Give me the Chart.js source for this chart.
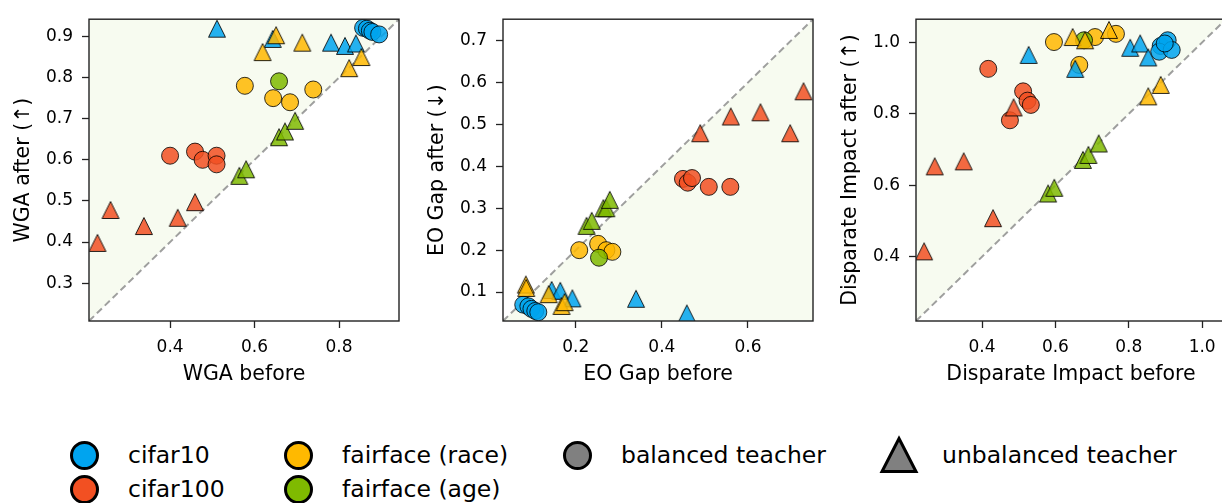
<!DOCTYPE html>
<html>
<head>
<meta charset="utf-8">
<script src="https://cdn.jsdelivr.net/npm/chart.js@4"></script>
<style>
  body { margin: 0; background: #fff; width: 1222px; height: 503px; overflow: hidden; position: relative; font-family: "DejaVu Sans", sans-serif; }
  canvas.panel { position: absolute; top: 0; }
  .lg { position: absolute; font-size: 23.5px; line-height: 23.5px; white-space: nowrap; color: #000; }
  .dot { position: absolute; width: 23px; height: 23px; border: 3px solid #000; border-radius: 50%; }
  svg.tri { position: absolute; }
</style>
</head>
<body>
<canvas id="wga" class="panel" width="414" height="400" style="left:0px"></canvas>
<canvas id="eo" class="panel" width="414" height="400" style="left:414px"></canvas>
<canvas id="di" class="panel" width="414" height="400" style="left:827px"></canvas>

<div class="dot" style="left:70px; top:441px; background:#00A4EF"></div>
<div class="lg" style="left:128px; top:444px">cifar10</div>
<div class="dot" style="left:70px; top:475px; background:#F25022"></div>
<div class="lg" style="left:128px; top:478px">cifar100</div>
<div class="dot" style="left:284px; top:441px; background:#FFB900"></div>
<div class="lg" style="left:342px; top:444px">fairface (race)</div>
<div class="dot" style="left:284px; top:475px; background:#7FBA00"></div>
<div class="lg" style="left:342px; top:478px">fairface (age)</div>
<div class="dot" style="left:563px; top:441px; background:#808080"></div>
<div class="lg" style="left:621px; top:444px">balanced teacher</div>
<svg class="tri" width="44" height="44" style="left:877px; top:432px">
  <polygon points="22,6.5 39,39.5 5,39.5" fill="#808080" stroke="#000" stroke-width="3" stroke-linejoin="miter"/>
</svg>
<div class="lg" style="left:942px; top:444px">unbalanced teacher</div>

<script>
// ---- WGA ----
const wgaRange = [0.208, 0.942];
const wgaXTicks = [0.4, 0.6, 0.8];
const wgaYTicks = [0.3, 0.4, 0.5, 0.6, 0.7, 0.8, 0.9];
const wga_cifar10_bal = [[0.857, 0.921], [0.866, 0.919], [0.873, 0.914], [0.879, 0.911], [0.895, 0.905]];
const wga_cifar10_unbal = [[0.511, 0.919], [0.643, 0.894], [0.781, 0.885], [0.814, 0.877], [0.840, 0.883]];
const wga_cifar100_bal = [[0.400, 0.610], [0.459, 0.620], [0.477, 0.600], [0.510, 0.610], [0.510, 0.589]];
const wga_cifar100_unbal = [[0.228, 0.398], [0.259, 0.478], [0.338, 0.439], [0.418, 0.459], [0.459, 0.497]];
const wga_race_bal = [[0.577, 0.780], [0.644, 0.750], [0.684, 0.740], [0.739, 0.771]];
const wga_race_unbal = [[0.619, 0.862], [0.651, 0.903], [0.713, 0.885], [0.824, 0.823], [0.853, 0.850]];
const wga_age_bal = [[0.658, 0.791]];
const wga_age_unbal = [[0.564, 0.561], [0.580, 0.577], [0.658, 0.655], [0.672, 0.669], [0.696, 0.695]];

// ---- EO gap ----
const eoRange = [0.031, 0.751];
const eoXTicks = [0.2, 0.4, 0.6];
const eoYTicks = [0.1, 0.2, 0.3, 0.4, 0.5, 0.6, 0.7];
const eo_cifar10_bal = [[0.078, 0.070], [0.090, 0.066], [0.097, 0.060], [0.106, 0.055], [0.113, 0.052]];
const eo_cifar10_unbal = [[0.144, 0.105], [0.164, 0.103], [0.192, 0.085], [0.340, 0.084], [0.458, 0.049]];
const eo_cifar100_bal = [[0.449, 0.370], [0.460, 0.361], [0.470, 0.372], [0.509, 0.351], [0.559, 0.351]];
const eo_cifar100_unbal = [[0.489, 0.479], [0.560, 0.519], [0.629, 0.529], [0.698, 0.479], [0.729, 0.579]];
const eo_race_bal = [[0.208, 0.200], [0.252, 0.215], [0.271, 0.200], [0.285, 0.196]];
const eo_race_unbal = [[0.084, 0.118], [0.085, 0.110], [0.137, 0.095], [0.167, 0.067], [0.174, 0.076]];
const eo_age_bal = [[0.254, 0.182]];
const eo_age_unbal = [[0.225, 0.258], [0.237, 0.270], [0.264, 0.300], [0.271, 0.300], [0.279, 0.320]];

// ---- Disparate impact ----
const diRange = [0.220, 1.065];
const diXTicks = [0.4, 0.6, 0.8, 1.0];
const diYTicks = [0.4, 0.6, 0.8, 1.0];
const di_cifar10_bal = [[0.887, 0.990], [0.906, 1.006], [0.883, 0.974], [0.917, 0.979], [0.898, 0.997]];
const di_cifar10_unbal = [[0.527, 0.965], [0.654, 0.926], [0.804, 0.985], [0.831, 0.997], [0.853, 0.958]];
const di_cifar100_bal = [[0.417, 0.926], [0.512, 0.863], [0.524, 0.837], [0.533, 0.825], [0.476, 0.782]];
const di_cifar100_unbal = [[0.242, 0.415], [0.271, 0.653], [0.350, 0.667], [0.430, 0.508], [0.486, 0.818]];
const di_race_bal = [[0.596, 1.001], [0.708, 1.015], [0.765, 1.024], [0.665, 0.937]];
const di_race_unbal = [[0.647, 1.015], [0.681, 1.006], [0.746, 1.035], [0.853, 0.849], [0.887, 0.881]];
const di_age_bal = [[0.678, 1.006]];
const di_age_unbal = [[0.580, 0.577], [0.597, 0.593], [0.675, 0.671], [0.690, 0.685], [0.718, 0.717]];

const COLORS = { cifar10: '#00A4EF', cifar100: '#F25022', race: '#FFB900', age: '#7FBA00' };
const ALPHA = 0.85;
const FONT = 'DejaVu Sans';

function rgba(hex, a) {
  const n = parseInt(hex.slice(1), 16);
  return `rgba(${n >> 16}, ${(n >> 8) & 255}, ${n & 255}, ${a})`;
}

// matplotlib-style '^' marker: box-centred, as wide as tall
function triangleImage(color) {
  const c = document.createElement('canvas');
  c.width = 20;
  c.height = 20;
  const g = c.getContext('2d');
  g.globalAlpha = ALPHA;
  g.beginPath();
  g.moveTo(10, 1.5);
  g.lineTo(18.5, 18.5);
  g.lineTo(1.5, 18.5);
  g.closePath();
  g.fillStyle = color;
  g.fill();
  g.lineWidth = 1;
  g.strokeStyle = '#000';
  g.stroke();
  return c;
}

const triangles = {};
for (const k in COLORS) triangles[k] = triangleImage(COLORS[k]);

const frame = {
  id: 'frame',
  afterDatasetsDraw(chart) {
    const { ctx, chartArea: a } = chart;
    ctx.save();
    ctx.strokeStyle = '#222';
    ctx.lineWidth = 1.4;
    ctx.strokeRect(a.left, a.top, a.right - a.left, a.bottom - a.top);
    ctx.restore();
  }
};

function axis(title, ticks, range, isX) {
  return {
    type: 'linear',
    min: range[0],
    max: range[1],
    afterBuildTicks: s => { s.ticks = ticks.map(v => ({ value: v })); },
    afterFit: s => { if (isX) s.height = 79; else s.width = 89; },
    grid: { drawOnChartArea: false, drawTicks: true, tickLength: 7, tickColor: '#222', tickWidth: 1.3 },
    border: { display: false },
    ticks: {
      autoSkip: false, maxRotation: 0, padding: 9, color: '#000',
      font: { family: FONT, size: 17 },
      callback: v => v.toFixed(1)
    },
    title: {
      display: true, text: title, color: '#000',
      font: { family: FONT, size: 20.5 },
      padding: isX ? { top: 0, bottom: 13 } : { top: 11, bottom: 0 }
    }
  };
}

function pts(arr) {
  return arr.map(([x, y]) => ({ x, y }));
}

function makePanel(id, range, shadeAbove, xTitle, yTitle, xTicks, yTicks, groups) {
  const datasets = [{
    type: 'line',
    data: [{ x: range[0], y: range[0] }, { x: range[1], y: range[1] }],
    borderColor: 'rgba(120,120,120,0.7)',
    borderWidth: 2,
    borderDash: [7, 4],
    pointRadius: 0,
    fill: shadeAbove ? 'end' : 'start',
    backgroundColor: 'rgba(127,186,0,0.06)',
    order: 1000,
    clip: 0
  }];

  // circles first, then triangles; later ones sit on top
  const keys = ['cifar10', 'cifar100', 'race', 'age'];
  let n = 0;
  keys.forEach(k => {
    datasets.push({
      type: 'scatter',
      data: pts(groups[k][0]),
      pointStyle: 'circle',
      pointRadius: 8.5,
      backgroundColor: rgba(COLORS[k], ALPHA),
      borderColor: 'rgba(0,0,0,0.8)',
      borderWidth: 1,
      order: 100 - n++,
      clip: 0
    });
  });
  keys.forEach(k => {
    datasets.push({
      type: 'scatter',
      data: pts(groups[k][1]),
      pointStyle: triangles[k],
      pointRadius: 10,
      order: 100 - n++,
      clip: 0
    });
  });

  return new Chart(document.getElementById(id), {
    type: 'scatter',
    data: { datasets },
    options: {
      responsive: false,
      animation: false,
      events: [],
      layout: { padding: { top: 11, right: 15, left: 0, bottom: 0 } },
      scales: {
        x: axis(xTitle, xTicks, range, true),
        y: axis(yTitle, yTicks, range, false)
      },
      plugins: { legend: { display: false }, tooltip: { enabled: false } }
    },
    plugins: [frame]
  });
}

makePanel('wga', wgaRange, true, 'WGA before', 'WGA after (↑)', wgaXTicks, wgaYTicks, {
  cifar10: [wga_cifar10_bal, wga_cifar10_unbal],
  cifar100: [wga_cifar100_bal, wga_cifar100_unbal],
  race: [wga_race_bal, wga_race_unbal],
  age: [wga_age_bal, wga_age_unbal]
});

makePanel('eo', eoRange, false, 'EO Gap before', 'EO Gap after (↓)', eoXTicks, eoYTicks, {
  cifar10: [eo_cifar10_bal, eo_cifar10_unbal],
  cifar100: [eo_cifar100_bal, eo_cifar100_unbal],
  race: [eo_race_bal, eo_race_unbal],
  age: [eo_age_bal, eo_age_unbal]
});

makePanel('di', diRange, true, 'Disparate Impact before', 'Disparate Impact after (↑)', diXTicks, diYTicks, {
  cifar10: [di_cifar10_bal, di_cifar10_unbal],
  cifar100: [di_cifar100_bal, di_cifar100_unbal],
  race: [di_race_bal, di_race_unbal],
  age: [di_age_bal, di_age_unbal]
});
</script>
</body>
</html>
